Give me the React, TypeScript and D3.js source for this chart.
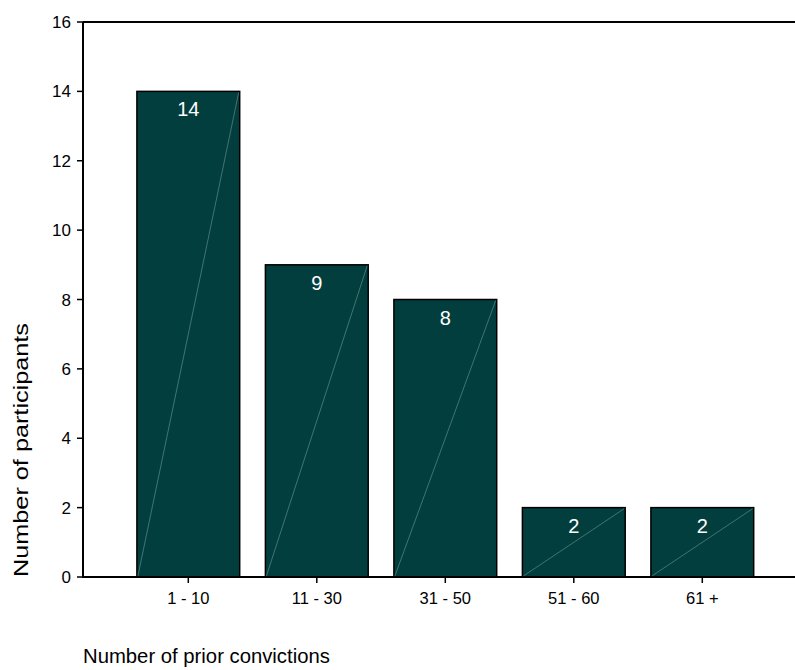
import React from "react";
import * as d3 from "d3";

const categories = ["1 - 10", "11 - 30", "31 - 50", "51 - 60", "61 +"];
const counts = [14, 9, 8, 2, 2];
const yTicks = [0, 2, 4, 6, 8, 10, 12, 14, 16];
const xTitle = "Number of prior convictions";
const yTitle = "Number of participants";

export default function App() {
  const W = 795, H = 670;
  const left = 83, right = 795, top = 22, bottom = 577;
  const x = d3.scaleBand<string>().domain(categories).range([124.05, 766.55]).paddingInner(0.2).paddingOuter(0.1);
  const y = d3.scaleLinear().domain([0, 16]).range([bottom, top]);
  const font = "'Liberation Sans', Arial, sans-serif";
  return (
    <svg width={W} height={H} style={{ position: "absolute", left: 0, top: 0 }} fontFamily={font}>
      <rect width={W} height={H} fill="#fff" />
      {categories.map((c, i) => {
        const x0 = x(c)!;
        const bw = x.bandwidth();
        const y0 = y(counts[i]);
        return (
          <g key={c}>
            <rect x={x0} y={y0} width={bw} height={bottom - y0} fill="#033e3e" stroke="#000" strokeWidth={1.5} />
            <line x1={x0 + 1} y1={bottom - 1} x2={x0 + bw - 1} y2={y0 + 1} stroke="#6a9896" strokeWidth={0.6} />
            <text x={x0 + bw / 2} y={y0 + 25} fill="#fff" fontSize={20} textAnchor="middle">{counts[i]}</text>
          </g>
        );
      })}
      {/* axes */}
      <line x1={left} y1={top} x2={left} y2={bottom} stroke="#000" strokeWidth={2} />
      <line x1={left - 1} y1={bottom} x2={right} y2={bottom} stroke="#000" strokeWidth={2} />
      <line x1={left} y1={top} x2={right} y2={top} stroke="#000" strokeWidth={2} />
      {yTicks.map((t) => (
        <g key={t}>
          <line x1={left - 6} x2={left} y1={y(t)} y2={y(t)} stroke="#000" strokeWidth={1.5} />
          <text x={left - 12} y={y(t) + 6} fontSize={17} textAnchor="end" fill="#000">{t}</text>
        </g>
      ))}
      {categories.map((c) => {
        const cx = x(c)! + x.bandwidth() / 2;
        return (
          <g key={c}>
            <line x1={cx} x2={cx} y1={bottom} y2={bottom + 6} stroke="#000" strokeWidth={1.5} />
            <text x={cx} y={bottom + 27} fontSize={16.5} textAnchor="middle" fill="#000">{c}</text>
          </g>
        );
      })}
      <text x={left} y={663} fontSize={20.3} fill="#000">{xTitle}</text>
      <text transform={`translate(28, ${bottom}) rotate(-90)`} fontSize={21} textLength={254} lengthAdjust="spacingAndGlyphs" fill="#000">{yTitle}</text>
    </svg>
  );
}
